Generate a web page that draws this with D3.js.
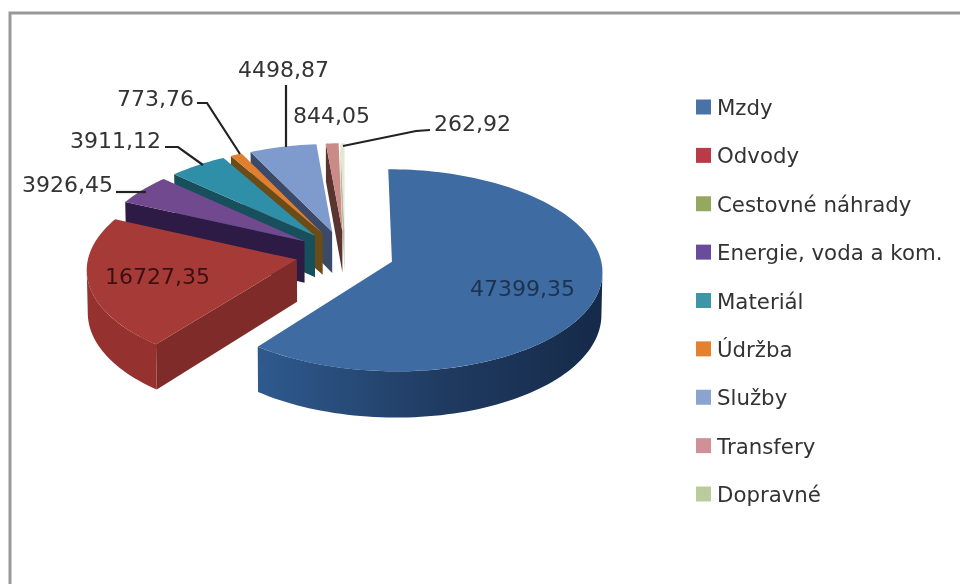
<!DOCTYPE html>
<html>
<head>
<meta charset="utf-8">
<script src="https://cdn.jsdelivr.net/npm/d3@7"></script>
<style>
  html, body { margin: 0; padding: 0; background: #fff; }
  svg { display: block; filter: blur(0.55px); }
  text { font-family: "DejaVu Sans", sans-serif; fill: #333; }
</style>
</head>
<body>
<svg width="960" height="584"></svg>
<script>
// data
const categories = ["Mzdy", "Odvody", "Cestovné náhrady", "Energie, voda a kom.", "Materiál", "Údržba", "Služby", "Transfery", "Dopravné"]
const values = [47399.35, 16727.35, 0, 3926.45, 3911.12, 773.76, 4498.87, 844.05, 262.92]
const valueLabels = ["47399,35", "16727,35", "", "3926,45", "3911,12", "773,76", "4498,87", "844,05", "262,92"]

// colours per slice
const legendColors = ["#4a72a5", "#bb3a48", "#96a860", "#6a4c9c", "#3f95a8", "#e5802e", "#8aa3cf", "#cf9096", "#bccb9c"]
const topColors = ["#3e6ba1", "#a63a37", "#8da24f", "#70498f", "#2f8ea8", "#e07f30", "#7f9bcd", "#c98a88", "#e3e8cf"]
const wallColors = ["#25456f", "#7f2b29", "#55622e", "#2d1b45", "#17505c", "#6b4c17", "#3c4a69", "#5a3530", "#b8bda4"]

// label text position and leader points
const labelLayout = [
  { x: 470, y: 296, color: "#1c3350" },
  { x: 105, y: 284, color: "#3c1012" },
  null,
  { x: 22, y: 192, leader: [[116, 192], [146, 192]] },
  { x: 70, y: 148, leader: [[165, 147], [178, 147], [203, 165]] },
  { x: 117, y: 106, leader: [[197, 103], [207, 103], [240, 154]] },
  { x: 238, y: 77, leader: [[286, 85], [286, 147]] },
  { x: 293, y: 123 },
  { x: 434, y: 131, leader: [[430, 130], [416, 131], [343, 146]] }
]

const svg = d3.select("svg")

// frame of the chart area
svg.append("rect")
  .attr("x", 10).attr("y", 13)
  .attr("width", 980).attr("height", 620)
  .attr("fill", "#fff")
  .attr("stroke", "#999")
  .attr("stroke-width", 3)

// pie geometry, 3d look faked with a small perspective
const centerX = 345
const centerY = 254
const radiusX = 208
const radiusY = 99
const perspective = 0.085
const depth = 42
const explode = 0.237

function project(u, v, z) {
  const s = 1 / (1 - perspective * v)
  const shrink = 1 - 0.004 * z
  return [
    centerX + radiusX * u * s * shrink,
    centerY + radiusY * v * s + depth * z * s
  ]
}

const pie = d3.pie().sort(null).startAngle(0).endAngle(2 * Math.PI)
const arcs = pie(values)

const defs = svg.append("defs")
const wallGrad = defs.append("linearGradient").attr("id", "blueWall")
wallGrad.append("stop").attr("offset", "0%").attr("stop-color", "#2f5a8e")
wallGrad.append("stop").attr("offset", "55%").attr("stop-color", "#1f3a60")
wallGrad.append("stop").attr("offset", "100%").attr("stop-color", "#152a49")

const polyLine = d3.line()

// points along the outer edge of a slice, angles clockwise from the top
function rimPoints(a0, a1, ox, oy, z) {
  const n = Math.max(2, Math.ceil((a1 - a0) / 0.03))
  return d3.range(n + 1).map(i => {
    const a = a0 + (a1 - a0) * i / n
    return project(ox + Math.sin(a), oy - Math.cos(a), z)
  })
}

arcs.forEach((d, i) => {
  const mid = (d.startAngle + d.endAngle) / 2
  d.ox = explode * Math.sin(mid)
  d.oy = -explode * Math.cos(mid)
  d.index = i
})

// back slices first
const ordered = arcs.filter(d => d.value > 0).sort((a, b) => a.oy - b.oy)

const slices = svg.append("g").selectAll("g")
  .data(ordered)
  .enter()
  .append("g")

slices.each(function (d) {
  const g = d3.select(this)
  const apexTop = project(d.ox, d.oy, 0)
  const apexBottom = project(d.ox, d.oy, 1)
  const a0 = d.startAngle
  const a1 = d.endAngle

  // wall under the starting edge, seen only on the left half of the pie
  if (Math.sin(a0) < -0.001) {
    const outerTop = project(d.ox + Math.sin(a0), d.oy - Math.cos(a0), 0)
    const outerBottom = project(d.ox + Math.sin(a0), d.oy - Math.cos(a0), 1)
    g.append("path")
      .attr("d", polyLine([apexTop, outerTop, outerBottom, apexBottom]) + "Z")
      .attr("fill", wallColors[d.index])
  }

  // curved outer wall, the widest point sits a bit past 90 degrees because of the perspective
  const w0 = Math.max(a0, Math.PI / 2 + 0.1)
  const w1 = Math.min(a1, 3 * Math.PI / 2 - 0.1)
  if (w1 > w0) {
    const top = rimPoints(w0, w1, d.ox, d.oy, 0)
    const bottom = rimPoints(w0, w1, d.ox, d.oy, 1).reverse()
    g.append("path")
      .attr("d", polyLine(top.concat(bottom)) + "Z")
      .attr("fill", d.index === 0 ? "url(#blueWall)" : "#95312e")
  }

  // top face
  g.append("path")
    .attr("d", polyLine([apexTop].concat(rimPoints(a0, a1, d.ox, d.oy, 0))) + "Z")
    .attr("fill", topColors[d.index])
})

// leader lines
svg.append("g").selectAll("path")
  .data(labelLayout.filter(d => d && d.leader))
  .enter()
  .append("path")
  .attr("d", d => polyLine(d.leader))
  .attr("fill", "none")
  .attr("stroke", "#222")
  .attr("stroke-width", 2.2)

// value labels
svg.append("g").selectAll("text")
  .data(valueLabels.map((t, i) => ({ t, l: labelLayout[i] })).filter(d => d.l))
  .enter()
  .append("text")
  .attr("x", d => d.l.x)
  .attr("y", d => d.l.y)
  .attr("font-size", 22)
  .style("fill", d => d.l.color || "#333")
  .text(d => d.t)

// legend
const legendY = d3.scalePoint()
  .domain(categories)
  .range([107, 494])

const legend = svg.append("g").selectAll("g")
  .data(categories)
  .enter()
  .append("g")
  .attr("transform", d => "translate(696," + legendY(d) + ")")

legend.append("rect")
  .attr("x", 0)
  .attr("y", -7.5)
  .attr("width", 15)
  .attr("height", 15)
  .attr("fill", (d, i) => legendColors[i])

legend.append("text")
  .attr("x", 21)
  .attr("y", 8)
  .attr("font-size", 21.3)
  .text(d => d)
</script>
</body>
</html>
